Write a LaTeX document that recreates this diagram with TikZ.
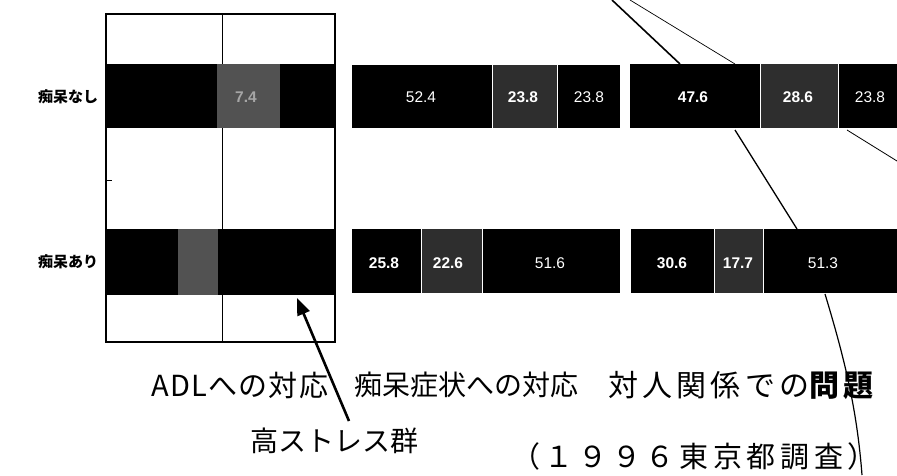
\documentclass[tikz,border=0pt]{standalone}
\usepackage{fontspec}
\setmainfont{Liberation Sans}
\newfontfamily\jp{Noto Sans CJK JP}
\usetikzlibrary{arrows.meta}
\begin{document}
\begin{tikzpicture}[x=1pt,y=-1pt,
  blk/.style={fill=black},
  gry/.style={fill=black!82},
  lgry/.style={fill=black!68},
  sep/.style={draw=white,line width=0.7pt},
  num/.style={text=white,inner sep=0pt,font=\fontsize{15.5}{16}\selectfont},
  bnum/.style={num,font=\fontsize{15.5}{16}\selectfont\bfseries},
  cat/.style={inner sep=0pt,font=\jp\fontsize{28}{30}\selectfont},
  side/.style={inner sep=0pt,font=\jp\bfseries\fontsize{15}{16}\selectfont},
  ]
\useasboundingbox (0,0) rectangle (897,475);
\fill[white] (0,0) rectangle (897,475);

% ---------- ADL chart ----------
\fill[blk] (106,64) rectangle (335,128);
\fill[lgry] (217,64) rectangle (280,128);
\fill[blk] (106,229) rectangle (335,295);
\fill[lgry] (178,229) rectangle (218,295);
\draw[line width=1pt] (222,14) -- (222,64) (222,128) -- (222,229) (222,295) -- (222,342);
\draw[line width=1.3pt] (106,14) rectangle (335,342);
\draw[line width=0.8pt] (106,180) -- (112,180);
\node[bnum,text=black!35] (adl1) at (246,97) {7.4};

% ---------- middle chart ----------
\fill[blk] (352,65) rectangle (620,128);
\fill[gry] (492,65) rectangle (557,128);
\draw[sep] (492,65) -- (492,128) (557,65) -- (557,128);
\fill[blk] (352,229) rectangle (620,293);
\fill[gry] (421,229) rectangle (482,293);
\draw[sep] (421,229) -- (421,293) (482,229) -- (482,293);

% ---------- right chart ----------
\fill[blk] (630,64) rectangle (897,128);
\fill[gry] (760,64) rectangle (838,128);
\draw[sep] (760,64) -- (760,128) (838,64) -- (838,128);
\fill[blk] (631,229) rectangle (897,293);
\fill[gry] (714,229) rectangle (763,293);
\draw[sep] (714,229) -- (714,293) (763,229) -- (763,293);

% ---------- values ----------
\node[num]  (m1a) at (421,97) {52.4};
\node[bnum] (m1b) at (523,97) {23.8};
\node[num]  (m1c) at (589,97) {23.8};
\node[bnum] (m2a) at (384,263) {25.8};
\node[bnum] (m2b) at (448,263) {22.6};
\node[num]  (m2c) at (550,263) {51.6};
\node[bnum] (r1a) at (693,97) {47.6};
\node[bnum] (r1b) at (798,97) {28.6};
\node[num]  (r1c) at (870,97) {23.8};
\node[bnum] (r2a) at (672,263) {30.6};
\node[bnum] (r2b) at (738,263) {17.7};
\node[num]  (r2c) at (823,263) {51.3};

% ---------- row labels ----------
\node[side] (nashi) at (68,97) {痴呆なし};
\node[side] (ari) at (68,262) {痴呆あり};

% ---------- category labels ----------
\node[cat,font=\jp\fontsize{29}{30}\selectfont\addfontfeatures{LetterSpace=4}] (adl) at (240,385) {ADLへの対応};
\node[cat] (chiho) at (466,385) {痴呆症状への対応};
\node[cat,font=\jp\fontsize{30}{32}\selectfont\addfontfeatures{LetterSpace=14}] (taijin) at (741,385) {対人関係での{\bfseries 問題}};
\node[cat] (high) at (334,441) {高ストレス群};
\node[cat,font=\jp\fontsize{29}{30}\selectfont\addfontfeatures{LetterSpace=16}] (src) at (694,456) {（１９９６東京都調査）};

% ---------- arrow ----------
\coordinate (tail) at (349,421);
\coordinate (tip) at (297,298);
\draw[line width=2.6pt,-{Triangle[length=17pt,width=13pt]}] (tail) -- (tip);

% ---------- stray lines ----------
\coordinate (t1) at (612,0);
\coordinate (t2) at (630,0);
\coordinate (b1) at (680,64);
\coordinate (b2) at (735,64);
\draw[line width=1.6pt] (t1) -- (b1);
\draw[line width=0.7pt] (t2) -- (b2);
\coordinate (c1) at (735,130);
\coordinate (c2) at (797,229);
\draw[line width=1.3pt] (c1) -- (c2);
\coordinate (d1) at (847,130);
\coordinate (d2) at (897,161);
\draw[line width=0.8pt] (d1) -- (d2);
\coordinate (e1) at (825,294);
\coordinate (e2) at (862,475);
\draw[line width=1.2pt] (e1) .. controls (845,360) and (857,410) .. (e2);
\end{tikzpicture}
\end{document}
